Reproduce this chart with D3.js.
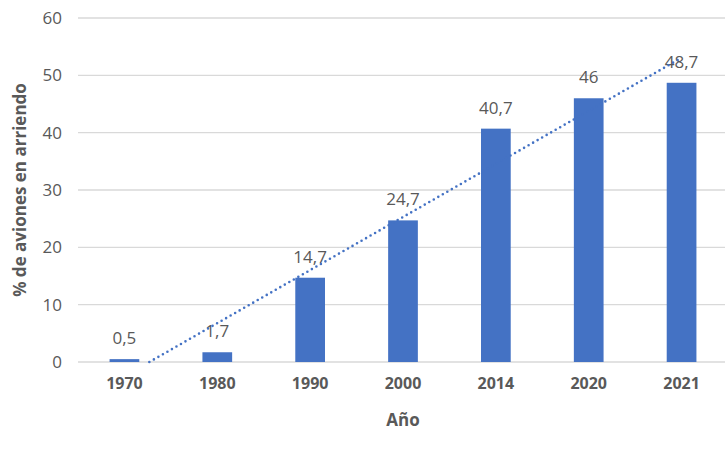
<!DOCTYPE html>
<html lang="es">
<head>
    <meta charset="utf-8">
    <script src="https://cdn.jsdelivr.net/npm/d3@7"></script>
    <style>
        body { margin: 0; background: #fff; }
        text { font-family: "Open Sans", "Noto Sans", "DejaVu Sans", sans-serif; }
    </style>
</head>
<body>
<div id="chart"></div>
<script>
    // datos
    var years = ["1970", "1980", "1990", "2000", "2014", "2020", "2021"]
    var values = [0.5, 1.7, 14.7, 24.7, 40.7, 46, 48.7]
    var yTicks = [0, 10, 20, 30, 40, 50, 60]

    var width = 725
        height = 452
        margin = {top: 18, right: -3, bottom: 90, left: 78}

    var svg = d3.select("#chart")
        .append("svg")
            .attr("width", width)
            .attr("height", height)

    var x = d3.scaleBand()
        .domain(years)
        .range([margin.left, width - margin.right])
        .paddingInner(0.68)
        .paddingOuter(0.34)

    var y = d3.scaleLinear()
        .domain([0, 60])
        .range([height - margin.bottom, margin.top])

    // gridlines
    svg.append("g")
        .selectAll("line")
        .data(yTicks)
        .enter()
        .append("line")
            .attr("x1", margin.left)
            .attr("x2", width)
            .attr("y1", function(d) { return y(d) })
            .attr("y2", function(d) { return y(d) })
            .attr("stroke", "#d9d9d9")
            .attr("stroke-width", 1.3)

    // y labels
    var yAxis = svg.append("g")
        .attr("transform", "translate(" + (margin.left - 16) + ",0)")
        .call(d3.axisLeft(y).tickValues(yTicks).tickSize(0).tickPadding(0))
    yAxis.select(".domain").remove()
    yAxis.selectAll("text")
        .attr("fill", "#595959")
        .style("font-size", "17px")

    // bars
    svg.append("g")
        .selectAll("rect")
        .data(values)
        .enter()
        .append("rect")
            .attr("x", function(d, i) { return x(years[i]) })
            .attr("width", x.bandwidth())
            .attr("y", function(d) { return y(d) })
            .attr("height", function(d) { return y(0) - y(d) })
            .attr("fill", "#4472c4")

    // value labels
    svg.append("g")
        .selectAll("text")
        .data(values)
        .enter()
        .append("text")
            .attr("x", function(d, i) { return x(years[i]) + x.bandwidth() / 2 })
            .attr("y", function(d) { return y(d) - 15 })
            .attr("text-anchor", "middle")
            .attr("fill", "#595959")
            .style("font-size", "17px")
            .text(function(d) { return String(d).replace(".", ",") })

    // linear trendline (least squares on category index, like Excel)
    var n = values.length
    var mx = d3.mean(values, function(d, i) { return i + 1 })
    var my = d3.mean(values)
    var sxy = d3.sum(values, function(d, i) { return (i + 1 - mx) * (d - my) })
    var sxx = d3.sum(values, function(d, i) { return (i + 1 - mx) * (i + 1 - mx) })
    var slope = sxy / sxx
    var icpt = my - slope * mx
    var xStart = Math.max(1, -icpt / slope)
    var xi = d3.scaleLinear()
        .domain([1, n])
        .range([x(years[0]) + x.bandwidth() / 2, x(years[n - 1]) + x.bandwidth() / 2])

    svg.append("path")
        .datum([xStart, n])
        .attr("d", d3.line()
            .x(function(d) { return xi(d) })
            .y(function(d) { return y(icpt + slope * d) }))
        .attr("fill", "none")
        .attr("stroke", "#4472c4")
        .attr("stroke-width", 2.6)
        .attr("stroke-linecap", "round")
        .attr("stroke-dasharray", "0,5.2")

    // x labels
    var xAxis = svg.append("g")
        .attr("transform", "translate(0," + (y(0) + 16) + ")")
        .call(d3.axisBottom(x).tickSize(0).tickPadding(0))
    xAxis.select(".domain").remove()
    xAxis.selectAll("text")
        .attr("fill", "#595959")
        .style("font-size", "16px")
        .style("font-weight", "bold")

    // axis titles
    svg.append("text")
        .attr("x", 403)
        .attr("y", 426)
        .attr("text-anchor", "middle")
        .attr("fill", "#595959")
        .style("font-size", "17px")
        .style("font-weight", "bold")
        .text("Año")

    svg.append("text")
        .attr("transform", "translate(26," + 190 + ") rotate(-90)")
        .attr("text-anchor", "middle")
        .attr("fill", "#595959")
        .style("font-size", "17px")
        .style("font-weight", "bold")
        .text("% de aviones en arriendo")
</script>
</body>
</html>
